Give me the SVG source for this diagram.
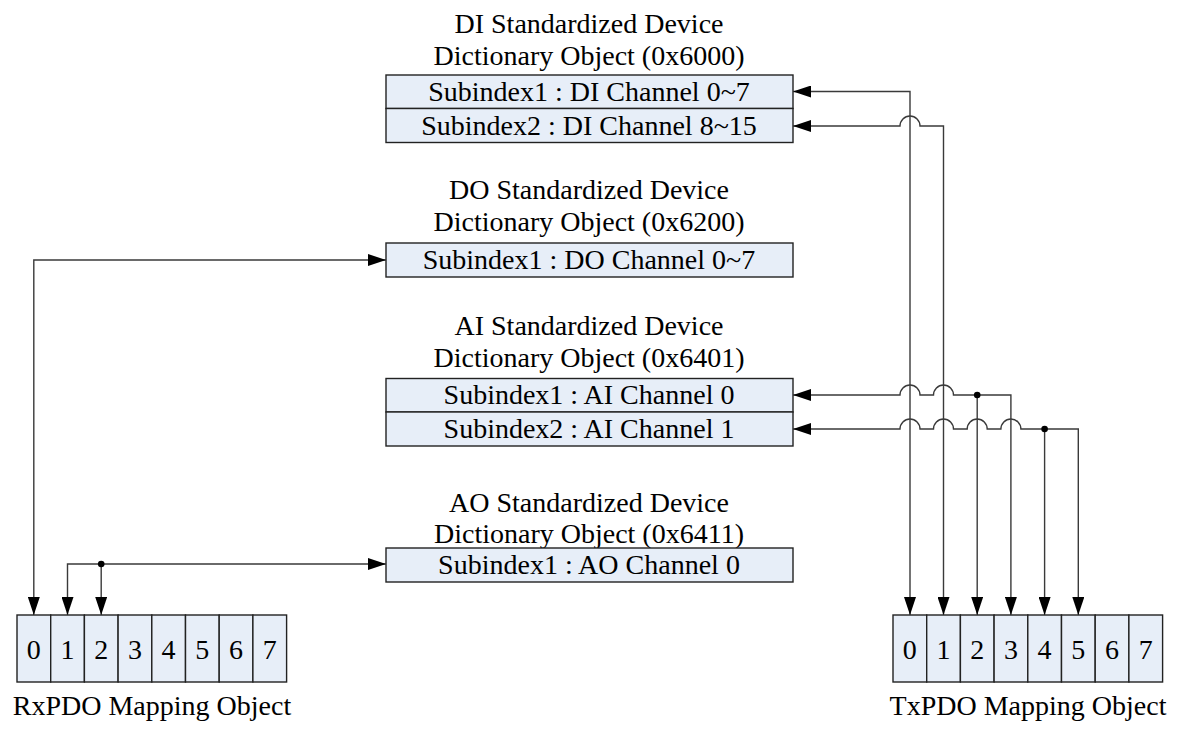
<svg xmlns="http://www.w3.org/2000/svg" width="1180" height="731" viewBox="0 0 1180 731">
<style>
text{font-family:"Liberation Serif","Times New Roman",serif;font-size:28px;fill:#000;text-anchor:middle}
.box{fill:#E7EEF8;stroke:#222;stroke-width:1.4}
.cn{fill:none;stroke:#3a3a3a;stroke-width:1.4}
.dot{fill:#000}
</style>
<defs>
<marker id="ah" markerUnits="userSpaceOnUse" markerWidth="18" markerHeight="12" refX="18" refY="6" orient="auto-start-reverse" viewBox="0 0 18 12">
<path d="M0,0 L18,6 L0,12 z" fill="#000"/>
</marker>
</defs>
<rect width="1180" height="731" fill="#fff"/>

<g id="di">
<text x="589" y="33">DI Standardized Device</text>
<text x="589" y="65">Dictionary Object (0x6000)</text>
<rect class="box" x="386" y="75" width="407" height="33.5"/>
<rect class="box" x="386" y="108.5" width="407" height="34"/>
<text x="589" y="100.5">Subindex1 : DI Channel 0~7</text>
<text x="589" y="134.5">Subindex2 : DI Channel 8~15</text>
</g>

<g id="do">
<text x="589" y="199">DO Standardized Device</text>
<text x="589" y="231">Dictionary Object (0x6200)</text>
<rect class="box" x="386" y="243" width="407" height="34"/>
<text x="589" y="269">Subindex1 : DO Channel 0~7</text>
</g>

<g id="ai">
<text x="589" y="335">AI Standardized Device</text>
<text x="589" y="367">Dictionary Object (0x6401)</text>
<rect class="box" x="386" y="378.5" width="407" height="33.5"/>
<rect class="box" x="386" y="412" width="407" height="34"/>
<text x="589" y="404">Subindex1 : AI Channel 0</text>
<text x="589" y="438">Subindex2 : AI Channel 1</text>
</g>

<g id="ao">
<text x="589" y="512">AO Standardized Device</text>
<text x="589" y="543">Dictionary Object (0x6411)</text>
<rect class="box" x="386" y="548" width="407" height="34"/>
<text x="589" y="574">Subindex1 : AO Channel 0</text>
</g>

<g id="rxpdo">
<rect class="box" x="17" y="615" width="33.7" height="67"/>
<rect class="box" x="50.7" y="615" width="33.7" height="67"/>
<rect class="box" x="84.4" y="615" width="33.7" height="67"/>
<rect class="box" x="118.1" y="615" width="33.7" height="67"/>
<rect class="box" x="151.8" y="615" width="33.7" height="67"/>
<rect class="box" x="185.5" y="615" width="33.7" height="67"/>
<rect class="box" x="219.2" y="615" width="33.7" height="67"/>
<rect class="box" x="252.9" y="615" width="33.7" height="67"/>
<text x="33.8" y="659">0</text>
<text x="67.5" y="659">1</text>
<text x="101.2" y="659">2</text>
<text x="134.9" y="659">3</text>
<text x="168.6" y="659">4</text>
<text x="202.3" y="659">5</text>
<text x="236" y="659">6</text>
<text x="269.7" y="659">7</text>
<text x="152" y="715">RxPDO Mapping Object</text>
</g>

<g id="txpdo">
<rect class="box" x="893" y="615" width="33.7" height="67"/>
<rect class="box" x="926.7" y="615" width="33.7" height="67"/>
<rect class="box" x="960.4" y="615" width="33.7" height="67"/>
<rect class="box" x="994.1" y="615" width="33.7" height="67"/>
<rect class="box" x="1027.8" y="615" width="33.7" height="67"/>
<rect class="box" x="1061.5" y="615" width="33.7" height="67"/>
<rect class="box" x="1095.2" y="615" width="33.7" height="67"/>
<rect class="box" x="1128.9" y="615" width="33.7" height="67"/>
<text x="909.8" y="659">0</text>
<text x="943.5" y="659">1</text>
<text x="977.2" y="659">2</text>
<text x="1010.9" y="659">3</text>
<text x="1044.6" y="659">4</text>
<text x="1078.3" y="659">5</text>
<text x="1112" y="659">6</text>
<text x="1145.7" y="659">7</text>
<text x="1028" y="715">TxPDO Mapping Object</text>
</g>

<g id="connectors">
<path class="cn" marker-start="url(#ah)" marker-end="url(#ah)" d="M793,91.5 H910 V615"/>
<path class="cn" marker-start="url(#ah)" marker-end="url(#ah)" d="M793,126 H900 A10,10 0 0 1 920,126 H943.5 V615"/>
<path class="cn" marker-start="url(#ah)" marker-end="url(#ah)" d="M33.8,615 V260 H386"/>
<path class="cn" marker-start="url(#ah)" marker-end="url(#ah)" d="M793,395 H900 A10,10 0 0 1 920,395 H933.5 A10,10 0 0 1 953.5,395 H1010.9 V615"/>
<path class="cn" marker-end="url(#ah)" d="M977.2,395 V615"/>
<circle class="dot" cx="977.2" cy="395" r="3.3"/>
<path class="cn" marker-start="url(#ah)" marker-end="url(#ah)" d="M793,429 H900 A10,10 0 0 1 920,429 H933.5 A10,10 0 0 1 953.5,429 H967.2 A10,10 0 0 1 987.2,429 H1000.9 A10,10 0 0 1 1020.9,429 H1078.3 V615"/>
<path class="cn" marker-end="url(#ah)" d="M1044.6,429 V615"/>
<circle class="dot" cx="1044.6" cy="429" r="3.3"/>
<path class="cn" marker-start="url(#ah)" marker-end="url(#ah)" d="M67.5,615 V564 H386"/>
<path class="cn" marker-end="url(#ah)" d="M101.2,564 V615"/>
<circle class="dot" cx="101.2" cy="564" r="3.3"/>
</g>
</svg>
